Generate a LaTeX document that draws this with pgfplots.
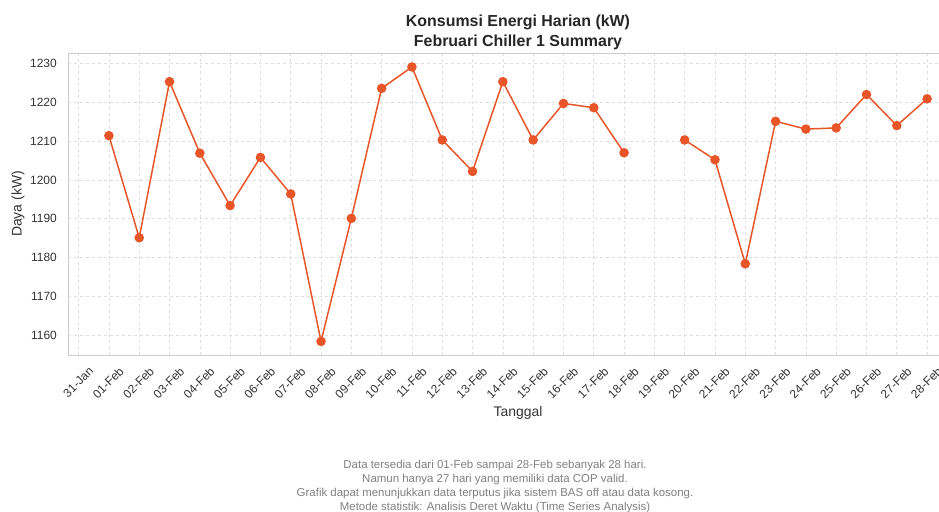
\documentclass[border=0pt]{standalone}
\usepackage{pgfplots}
\pgfplotsset{compat=1.18}
\usepackage{fontspec}
\setmainfont{Liberation Sans}
\definecolor{lineor}{RGB}{232,85,40}
\definecolor{gridc}{RGB}{222,222,222}
\definecolor{framec}{RGB}{204,204,204}
\definecolor{txt}{RGB}{51,51,51}
\definecolor{note}{RGB}{128,128,128}
\begin{document}
\begin{tikzpicture}
\path[use as bounding box] (-68bp,-157bp) rectangle (871bp,355bp);
\begin{axis}[
  at={(0,0)}, anchor=south west,
  scale only axis, width=900bp, height=302bp,
  xmin=-0.35, xmax=29.35, ymin=1154.9, ymax=1232.7,
  xtick={0,...,28},
  xticklabels={31-Jan,01-Feb,02-Feb,03-Feb,04-Feb,05-Feb,06-Feb,07-Feb,08-Feb,09-Feb,10-Feb,11-Feb,12-Feb,13-Feb,14-Feb,15-Feb,16-Feb,17-Feb,18-Feb,19-Feb,20-Feb,21-Feb,22-Feb,23-Feb,24-Feb,25-Feb,26-Feb,27-Feb,28-Feb},
  ytick={1160,1170,...,1230},
  major tick length=0pt,
  grid=major,
  major grid style={gridc, dashed, line width=0.6pt},
  axis line style={framec, line width=0.9pt},
  /pgf/number format/assume math mode=true,
  /pgf/number format/1000 sep={},
  tick label style={font=\fontsize{12}{14}\selectfont, text=txt},
  xticklabel style={inner sep=0pt, xshift=9.5bp, yshift=-11bp, rotate=45, anchor=north east},
  yticklabel style={inner sep=0pt, xshift=-11bp},
  xlabel={Tanggal}, ylabel={Daya (kW)},
  label style={font=\fontsize{14}{16}\selectfont, text=txt},
  xlabel style={at={(axis description cs:0.5,-0.192)}, anchor=center},
  ylabel style={at={(axis description cs:-0.0556,0.5)}, anchor=center},
  title={Konsumsi Energi Harian (kW)\\Februari Chiller 1 Summary},
  title style={at={(axis description cs:0.5,1.047)}, anchor=center, align=center,
    font=\bfseries\fontsize{16}{20}\selectfont, text=black!85},
  unbounded coords=jump,
  clip=false,
]
\addplot[lineor, line width=1.5pt, mark=*, mark size=4bp, mark options={fill=lineor, draw=lineor}]
  table[row sep=\\] {
  x y \\
  1 1211.4 \\
  2 1185.1 \\
  3 1225.3 \\
  4 1206.9 \\
  5 1193.4 \\
  6 1205.8 \\
  7 1196.4 \\
  8 1158.4 \\
  9 1190.1 \\
  10 1223.6 \\
  11 1229.1 \\
  12 1210.3 \\
  13 1202.2 \\
  14 1225.3 \\
  15 1210.3 \\
  16 1219.7 \\
  17 1218.6 \\
  18 1207.0 \\
  19 nan \\
  20 1210.3 \\
  21 1205.2 \\
  22 1178.4 \\
  23 1215.1 \\
  24 1213.1 \\
  25 1213.4 \\
  26 1222.0 \\
  27 1214.0 \\
  28 1220.9 \\
  };
\end{axis}
\node[anchor=north, align=center, text=note, font=\fontsize{11.5}{14}\selectfont] at (427bp,-102bp)
  {Data tersedia dari 01-Feb sampai 28-Feb sebanyak 28 hari.\\
   Namun hanya 27 hari yang memiliki data COP valid.\\
   Grafik dapat menunjukkan data terputus jika sistem BAS off atau data kosong.\\
   Metode statistik: Analisis Deret Waktu (Time Series Analysis)};
\end{tikzpicture}
\end{document}
